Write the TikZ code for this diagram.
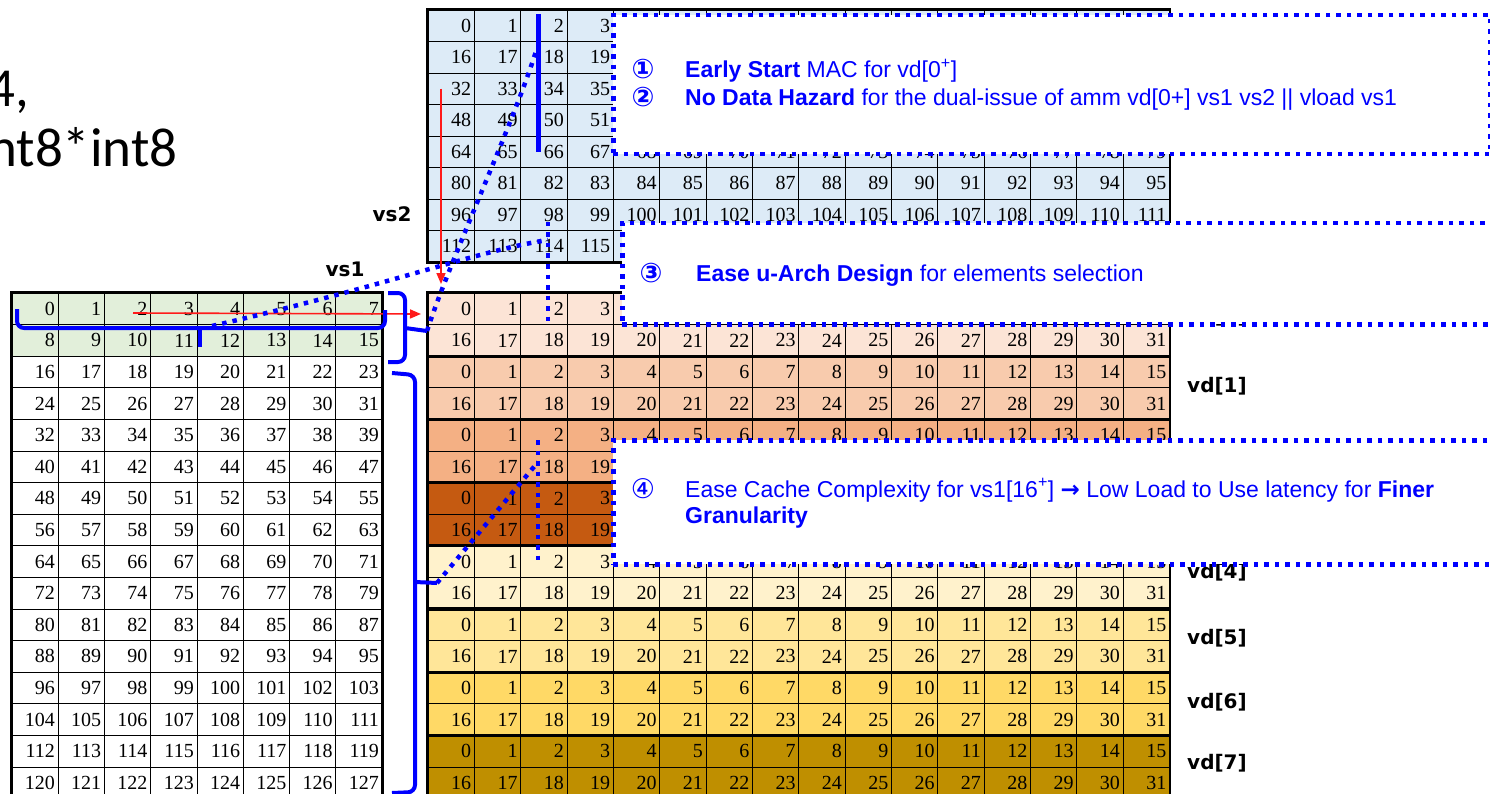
\documentclass[tikz,border=0pt]{standalone}
\usepackage{fontspec}
\setmainfont{Liberation Sans}
\newfontfamily\cellfont{Liberation Serif}
\newfontfamily\tagfont{DejaVu Sans}
\newfontfamily\headfont{Carlito}
\usetikzlibrary{arrows.meta}
\definecolor{ink}{HTML}{000000}
\definecolor{markblue}{HTML}{0000FF}
\definecolor{markred}{HTML}{FF1A1A}
\definecolor{vstwofill}{HTML}{DDEBF7}
\definecolor{vsonefill}{HTML}{E2EFDA}
\definecolor{vdfill0}{HTML}{FCE4D6}
\definecolor{vdfill1}{HTML}{F8CBAD}
\definecolor{vdfill2}{HTML}{F4B084}
\definecolor{vdfill3}{HTML}{C55A11}
\definecolor{vdfill4}{HTML}{FFF2CC}
\definecolor{vdfill5}{HTML}{FFE699}
\definecolor{vdfill6}{HTML}{FFD966}
\definecolor{vdfill7}{HTML}{BF8F00}
\tikzset{
  cell/.style={rectangle,draw=ink,line width=0.8pt,minimum width=46.3pt,
    minimum height=31.6pt,inner sep=0pt,text width=40pt,align=right,
    font=\cellfont\fontsize{20}{22}\selectfont},
  matrule/.style={draw=ink,line width=2.4pt},
  matlabel/.style={font=\tagfont\bfseries\fontsize{20}{24}\selectfont,text=ink,inner sep=0pt},
  headtext/.style={font=\headfont\fontsize{55}{60}\selectfont,text=ink,inner sep=0pt},
  bracepen/.style={draw=markblue,line width=4pt,rounded corners=7pt},
  markpen/.style={draw=markblue,line width=5pt},
  dotpen/.style={draw=markblue,line width=4.5pt,dash pattern=on 4.5pt off 6pt},
  redarr/.style={-{Triangle[length=11pt,width=9pt]},draw=markred,fill=markred,line width=1.6pt},
  callout/.style={rectangle,fill=white,draw=markblue,line width=4.5pt,
    dash pattern=on 4.5pt off 6pt,anchor=north west,inner sep=0pt},
  circnum/.style={font=\tagfont\bfseries\fontsize{27}{30}\selectfont,text=markblue,inner sep=0pt,anchor=base},
  circnumthin/.style={circnum,font=\tagfont\fontsize{27}{30}\selectfont},
  notetext/.style={font=\fontsize{23}{27}\selectfont,text=markblue,inner sep=0pt,anchor=base west},
}
\begin{document}
\begin{tikzpicture}[x=1pt,y=-1pt]
  \useasboundingbox (0,0) rectangle (1490,794);
  \fill[white] (0,0) rectangle (1490,794);

  \node[headtext,anchor=base west] (headone) at (-13,107) {4,};
  \node[headtext,anchor=base west] (headtwo) at (-12,167) {nt8*int8};

  \foreach \r in {0,...,7}
    \foreach \c in {0,...,15}{
      \pgfmathtruncatemacro\v{16*\r+\c}
      \node[cell,fill=vstwofill] (vs2-\r-\c) at ({451.2+46.34*\c},{25.8+31.5*\r}) {\v};
    }
  \draw[matrule] (vs2-0-0.north west) rectangle (vs2-7-15.south east);

  \foreach \r in {0,...,15}
    \foreach \c in {0,...,15}{
      \pgfmathtruncatemacro\v{16*mod(\r,2)+\c}
      \pgfmathtruncatemacro\g{\r/2}
      \node[cell,fill=vdfill\g] (vd-\r-\c) at ({451.2+46.34*\c},{308.8+31.6*\r}) {\v};
    }
  \foreach \g in {0,...,7}{
    \pgfmathtruncatemacro\ra{2*\g}
    \pgfmathtruncatemacro\rb{2*\g+1}
    \draw[matrule] (vd-\ra-0.north west) rectangle (vd-\rb-15.south east);
  }

  \foreach \r in {0,...,15}{
    \ifnum\r<2 \def\fc{vsonefill}\else\def\fc{white}\fi
    \foreach \c in {0,...,7}{
      \pgfmathtruncatemacro\v{8*\r+\c}
      \node[cell,fill=\fc] (vs1-\r-\c) at ({34.85+46.3*\c},{308.8+31.6*\r}) {\v};
    }
  }
  \draw[matrule] (vs1-0-0.north west) rectangle (vs1-15-7.south east);

  \node[matlabel] (vs2name) at (392,214) {vs2};
  \node[matlabel] (vs1name) at (345,269) {vs1};
  \foreach \g/\yy in {0/317,1/386,4/572,5/638,6/702,7/763}
    \node[matlabel,anchor=west] (vdname\g) at (1187,\yy) {vd[\g]};

  \coordinate (rowarrfrom) at (133,313);
  \coordinate (rowarrto) at (421,314);
  \coordinate (colarrfrom) at (441,89);
  \coordinate (colarrto) at (441,284);
  \draw[redarr] (rowarrfrom) -- (rowarrto);
  \draw[redarr] (colarrfrom) -- (colarrto);

  \draw[bracepen] (17,309) -- (17,328) -- (385,328) -- (385,310);
  \draw[bracepen] (200,328) -- (200,347);
  \draw[bracepen] (388,293) -- (405,293) -- (405,362) -- (388,362);
  \draw[bracepen] (405,328) -- (427,331);
  \draw[bracepen] (392,373) -- (415,375) -- (415,792) -- (392,793);
  \draw[bracepen] (415,582) -- (437,583);

  \coordinate (rowbrace) at (212,326);
  \coordinate (pairtip) at (427,331);
  \coordinate (resttip) at (437,583);
  \coordinate (vstwohit) at (548,240);
  \coordinate (colmarktop) at (538,14);
  \coordinate (colmarkbot) at (538,152);
  \coordinate (colmarkend) at (537,48);
  \coordinate (selecttop) at (548,222);
  \coordinate (selectbot) at (548,322);
  \coordinate (cachetop) at (538,440);
  \coordinate (cachebot) at (538,560);
  \coordinate (cachehit) at (538,462);

  \draw[markpen] (colmarktop) -- (colmarkbot);
  \draw[dotpen] (rowbrace) .. controls (390,285) and (480,250) .. (vstwohit);
  \draw[dotpen] (pairtip) .. controls (450,260) and (515,120) .. (colmarkend);
  \draw[dotpen] (selecttop) -- (selectbot);
  \draw[dotpen] (cachetop) -- (cachebot);
  \draw[dotpen] (resttip) -- (cachehit);

  \node[callout,minimum width=877pt,minimum height=139pt] (noteone) at (611,13) {};
  \node[callout,minimum width=890pt,minimum height=101pt] (notethree) at (620,221) {};
  \node[callout,minimum width=900pt,minimum height=124pt] (notefour) at (611,438) {};

  \node[circnum] (numone) at (643,79) {①};
  \node[notetext] (txtone) at (685,78) {\textbf{Early Start} MAC for vd[0\textsuperscript{+}]};
  \node[circnum] (numtwo) at (643,107) {②};
  \node[notetext] (txttwo) at (685,106) {\textbf{No Data Hazard} for the dual-issue of amm vd[0+] vs1 vs2 || vload vs1};
  \node[circnum] (numthree) at (651,282) {③};
  \node[notetext] (txtthree) at (696,281) {\textbf{Ease u-Arch Design} for elements selection};
  \node[circnumthin] (numfour) at (643,498) {④};
  \node[notetext] (txtfour) at (685,497) {Ease Cache Complexity for vs1[16\textsuperscript{+}] {\tagfont\bfseries →} Low Load to Use latency for \textbf{Finer}};
  \node[notetext] (txtfourb) at (685,523) {\textbf{Granularity}};
\end{tikzpicture}
\end{document}
